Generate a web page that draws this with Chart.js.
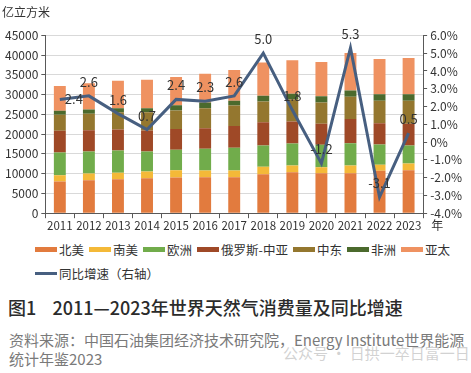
<!DOCTYPE html>
<html>
<head>
<meta charset="utf-8">
<script src="https://cdn.jsdelivr.net/npm/chart.js@4.4.1/dist/chart.umd.min.js"></script>
<style>
  body { margin: 0; background: #fff; font-family: "Noto Sans CJK SC", "Noto Sans", sans-serif; color: #333; }
  #wrap { position: relative; width: 471px; height: 373px; overflow: hidden; }
  #box { position: absolute; left: 0; top: 0; width: 471px; height: 236px; }
  .legend { position: absolute; left: 35px; display: flex; align-items: center; font-size: 12.5px; color: #333; white-space: nowrap; }
  .item { display: flex; align-items: center; margin-right: 5px; }
  .swatch { width: 22px; margin-right: 2px; }
  #title { position: absolute; left: 8px; top: 294px; font-size: 18px; font-weight: 500; color: #2b2b2b; white-space: nowrap; }
  #source { position: absolute; left: 9px; top: 330px; font-size: 15px; line-height: 19px; color: #7a7a7a; white-space: nowrap; }
  #mark { position: absolute; left: 283px; top: 342px; font-size: 15px; color: rgba(190,190,190,0.7); white-space: nowrap; }
</style>
</head>
<body>
<div id="wrap">
  <div id="box"><canvas id="gasChart"></canvas></div>
  <div class="legend" id="legend1" style="top:240px"></div>
  <div class="legend" id="legend2" style="top:264px"></div>
  <div id="title">图1&nbsp;&nbsp;&nbsp;&nbsp;2011—2023年世界天然气消费量及同比增速</div>
  <div id="source">资料来源：中国石油集团经济技术研究院，Energy Institute世界能源<br>统计年鉴2023</div>
  <div id="mark">公众号 · 日拱一卒日富一日</div>
</div>
<script>
const years = ["2011", "2012", "2013", "2014", "2015", "2016", "2017", "2018", "2019", "2020", "2021", "2022", "2023"];

// 亿立方米
const northAmerica = [8030, 8360, 8610, 8860, 9040, 9110, 9120, 9880, 10380, 10130, 10130, 10740, 10890];
const southAmerica = [1600, 1700, 1620, 1700, 1850, 1700, 1700, 1870, 1700, 1520, 1950, 1520, 1700];
const europe = [5750, 5570, 5650, 5060, 5170, 5490, 5750, 5390, 5570, 5670, 5650, 5140, 4560];
const russiaCA = [5500, 5390, 5320, 5320, 5220, 5220, 5470, 5900, 5570, 5320, 6080, 5390, 5490];
const middleEast = [4050, 4150, 4380, 4630, 4740, 5060, 5240, 5240, 5650, 5390, 5670, 5670, 5820];
const africa = [1000, 1090, 1010, 1010, 1270, 1440, 1190, 1440, 1370, 1600, 1600, 1670, 1670];
const asiaPacific = [6250, 6640, 6940, 7190, 7170, 7270, 7750, 8430, 8500, 8650, 9440, 8920, 9120];

// 同比增速 %
const growth = [2.4, 2.6, 1.6, 0.7, 2.4, 2.3, 2.6, 5.0, 1.8, -1.2, 5.3, -3.1, 0.5];

const barSeries = [
  { label: "北美", data: northAmerica, color: "#E27B3E" },
  { label: "南美", data: southAmerica, color: "#F4B938" },
  { label: "欧洲", data: europe, color: "#71AC4B" },
  { label: "俄罗斯-中亚", data: russiaCA, color: "#9F4927" },
  { label: "中东", data: middleEast, color: "#94772F" },
  { label: "非洲", data: africa, color: "#4B6A2D" },
  { label: "亚太", data: asiaPacific, color: "#EF9261" }
];
const lineColor = "#475F80";
const font = "'Noto Sans CJK SC', 'Noto Sans', sans-serif";

// html legend
const leg1 = document.getElementById("legend1");
barSeries.forEach(s => {
  leg1.insertAdjacentHTML("beforeend",
    `<span class="item"><span class="swatch" style="height:5px;background:${s.color}"></span>${s.label}</span>`);
});
document.getElementById("legend2").innerHTML =
  `<span class="item"><span class="swatch" style="height:3px;background:${lineColor}"></span>同比增速（右轴）</span>`;

const pointLabels = {
  id: "pointLabels",
  afterDatasetsDraw(chart) {
    const meta = chart.getDatasetMeta(0);
    const c = chart.ctx;
    c.save();
    c.font = "13px " + font;
    c.fillStyle = "#333";
    c.textBaseline = "middle";
    meta.data.forEach((pt, i) => {
      const txt = growth[i].toFixed(1);
      if (i === 0) {
        c.textAlign = "left";
        c.fillText(txt, pt.x + 5, pt.y);
      } else {
        c.textAlign = "center";
        c.fillText(txt, pt.x, pt.y - 14);
      }
    });
    // "年" after last x label
    const xs = chart.scales.x;
    c.font = "12px " + font;
    c.textAlign = "left";
    c.fillText("年", xs.right + 8, xs.bottom - 9);
    c.restore();
  }
};

new Chart(document.getElementById("gasChart"), {
  data: {
    labels: years,
    datasets: [
      {
        type: "line",
        label: "同比增速（右轴）",
        data: growth,
        yAxisID: "y1",
        borderColor: lineColor,
        borderWidth: 3,
        pointRadius: 0,
        tension: 0,
        order: 0
      },
      ...barSeries.map(s => ({
        type: "bar",
        label: s.label,
        data: s.data,
        backgroundColor: s.color,
        stack: "gas",
        barPercentage: 0.41,
        categoryPercentage: 1,
        order: 1
      }))
    ]
  },
  options: {
    responsive: true,
    maintainAspectRatio: false,
    animation: false,
    layout: { padding: { left: 2, right: 6, top: 0, bottom: 2 } },
    plugins: {
      legend: { display: false },
      tooltip: { enabled: false },
      title: {
        display: true,
        text: "亿立方米",
        align: "start",
        color: "#333",
        font: { family: font, size: 12, weight: "normal" },
        padding: { top: 5, bottom: 16 }
      }
    },
    scales: {
      x: {
        stacked: true,
        grid: { display: true, drawOnChartArea: false, offset: true, tickLength: 5, color: "#595959" },
        border: { color: "#595959" },
        ticks: { color: "#333", font: { family: font, size: 11.5 }, padding: 1, maxRotation: 0, autoSkip: false }
      },
      y: {
        stacked: true,
        min: 0,
        max: 45000,
        ticks: {
          stepSize: 5000,
          color: "#333",
          font: { family: font, size: 12 },
          padding: 3,
          callback: v => String(v)
        },
        grid: { color: "#D9D9D9", tickLength: 4, tickColor: "#595959" },
        border: { color: "#595959" }
      },
      y1: {
        position: "right",
        min: -4,
        max: 6,
        ticks: {
          stepSize: 1,
          autoSkip: false,
          color: "#333",
          font: { family: font, size: 12 },
          padding: 3,
          callback: v => (v === 0 ? "0%" : v.toFixed(1) + "%")
        },
        grid: { drawOnChartArea: false, tickLength: 4, color: "#595959" },
        border: { color: "#595959" }
      }
    }
  },
  plugins: [pointLabels]
});
</script>
</body>
</html>
